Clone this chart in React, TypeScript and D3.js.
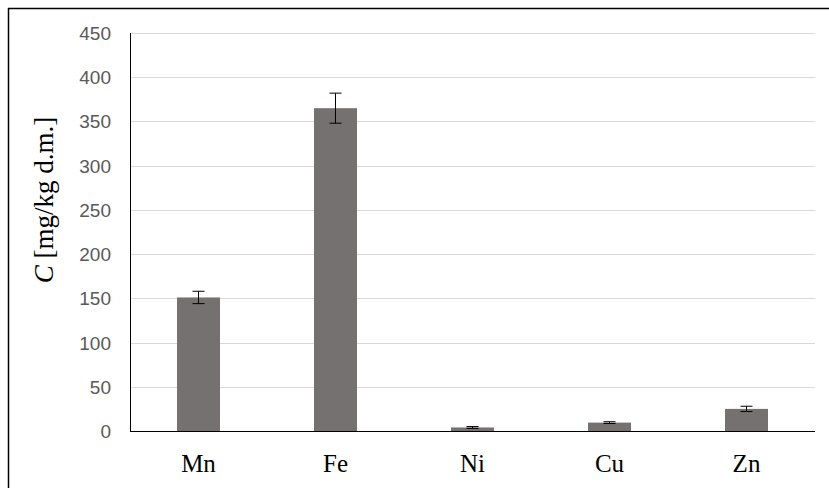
import React from 'react';
import * as d3 from 'd3';

const elements = ['Mn', 'Fe', 'Ni', 'Cu', 'Zn'];
const concentration = [151, 365, 4, 9.5, 25];
const errors = [7, 17, 1, 1, 3];
const yTicks = [0, 50, 100, 150, 200, 250, 300, 350, 400, 450];

export default function App() {
  const width = 829;
  const height = 488;
  const left = 130, right = 815, top = 33, bottom = 431;

  const x = d3.scaleBand().domain(elements).range([left, right]).paddingInner(0.686).paddingOuter(0.343);
  const y = d3.scaleLinear().domain([0, 450]).range([bottom, top]);

  return (
    <svg width={width} height={height} style={{ position: 'absolute', left: 0, top: 0, background: '#fff' }}>
      {/* border */}
      <line x1={8} x2={width} y1={8.5} y2={8.5} stroke="#000" strokeWidth={1.5} />
      <line x1={8.5} x2={8.5} y1={8} y2={height} stroke="#000" strokeWidth={1.5} />

      {/* gridlines */}
      {yTicks.filter(t => t > 0).map(t => (
        <line key={t} x1={left} x2={right} y1={Math.round(y(t)) + 0.5} y2={Math.round(y(t)) + 0.5} stroke="#d9d9d9" strokeWidth={1} />
      ))}

      {/* tick labels */}
      <g style={{ fontFamily: 'Liberation Sans', fontSize: 19 }} fill="#595959">
        {yTicks.map(t => (
          <text key={t} x={111} y={y(t) + 7} textAnchor="end">{t}</text>
        ))}
      </g>

      {/* bars */}
      {elements.map((e, i) => (
        <rect key={e} x={x(e)} y={y(concentration[i])} width={x.bandwidth()} height={bottom - y(concentration[i])} fill="#767171" />
      ))}

      {/* error bars */}
      {elements.map((e, i) => {
        const cx = (x(e) as number) + x.bandwidth() / 2;
        const hi = y(concentration[i] + errors[i]);
        const lo = y(concentration[i] - errors[i]);
        return (
          <g key={e} stroke="#000" strokeWidth={1}>
            <line x1={cx} x2={cx} y1={hi} y2={lo} />
            <line x1={cx - 6} x2={cx + 6} y1={hi} y2={hi} />
            <line x1={cx - 6} x2={cx + 6} y1={lo} y2={lo} />
          </g>
        );
      })}

      {/* axes */}
      <line x1={left + 0.5} x2={left + 0.5} y1={top} y2={bottom} stroke="#000" strokeWidth={1} />
      <line x1={left} x2={right} y1={bottom + 0.5} y2={bottom + 0.5} stroke="#000" strokeWidth={1} />

      {/* category labels */}
      <g style={{ fontFamily: 'Liberation Serif', fontSize: 25 }} fill="#000">
        {elements.map(e => (
          <text key={e} x={(x(e) as number) + x.bandwidth() / 2} y={472} textAnchor="middle">{e}</text>
        ))}
      </g>

      {/* y label */}
      <text transform="translate(53,200) rotate(-90)" textAnchor="middle" style={{ fontFamily: 'Liberation Serif', fontSize: 27 }} fill="#000">
        <tspan style={{ fontStyle: 'italic' }}>C</tspan> [mg/kg d.m.]
      </text>
    </svg>
  );
}
